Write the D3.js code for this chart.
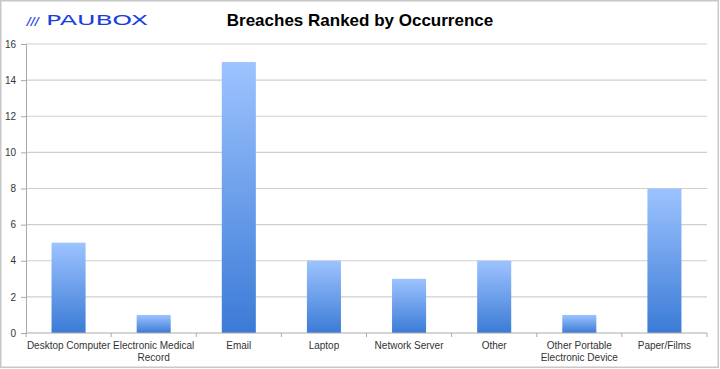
<!DOCTYPE html>
<html>
<head>
<meta charset="utf-8">
<script src="https://cdn.jsdelivr.net/npm/d3@7"></script>
<style>
  html, body { margin: 0; padding: 0; background: #fff; }
  svg { display: block; }
</style>
</head>
<body>
<div id="chart"></div>
<script>
var categories = ["Desktop Computer", "Electronic Medical Record", "Email", "Laptop",
                  "Network Server", "Other", "Other Portable Electronic Device", "Paper/Films"];
var labelLines = [["Desktop Computer"], ["Electronic Medical", "Record"], ["Email"], ["Laptop"],
                  ["Network Server"], ["Other"], ["Other Portable", "Electronic Device"], ["Paper/Films"]];
var breaches = [5, 1, 15, 4, 3, 4, 1, 8];
var yTicks = [0, 2, 4, 6, 8, 10, 12, 14, 16];

var width = 720, height = 369;
var margin = {top: 44, right: 13, bottom: 36, left: 26};

var svg = d3.select("#chart").append("svg")
    .attr("width", width)
    .attr("height", height);

// frame
svg.append("rect")
    .attr("x", 0.75).attr("y", 0.75)
    .attr("width", width - 2.5).attr("height", height - 2.5)
    .attr("fill", "#fff")
    .attr("stroke", "#c8c8c8")
    .attr("stroke-width", 1.5);

var defs = svg.append("defs");
var grad = defs.append("linearGradient")
    .attr("id", "barGrad")
    .attr("x1", 0).attr("y1", 0).attr("x2", 0).attr("y2", 1);
grad.append("stop").attr("offset", "0%").attr("stop-color", "#9dc3ff");
grad.append("stop").attr("offset", "100%").attr("stop-color", "#3b7bd6");

var x = d3.scaleBand()
    .domain(categories)
    .range([margin.left, width - margin.right])
    .paddingInner(0)
    .paddingOuter(0);

var y = d3.scaleLinear()
    .domain([0, 16])
    .range([height - margin.bottom, margin.top]);

// gridlines
svg.append("g")
  .selectAll("line")
  .data(yTicks.filter(function(d) { return d > 0; }))
  .enter().append("line")
    .attr("x1", margin.left)
    .attr("x2", width - margin.right)
    .attr("y1", function(d) { return y(d); })
    .attr("y2", function(d) { return y(d); })
    .attr("stroke", "#cfcfcf")
    .attr("stroke-width", 1.2);

// bars
var barW = x.bandwidth() * 0.4;
svg.append("g")
  .selectAll("rect")
  .data(breaches)
  .enter().append("rect")
    .attr("x", function(d, i) { return x(categories[i]) + (x.bandwidth() - barW) / 2; })
    .attr("y", function(d) { return y(d); })
    .attr("width", barW)
    .attr("height", function(d) { return y(0) - y(d); })
    .attr("fill", "url(#barGrad)");

// y axis
var yAxis = d3.axisLeft(y).tickValues(yTicks).tickSize(5).tickPadding(5);
var gy = svg.append("g")
    .attr("transform", "translate(" + margin.left + ",0)")
    .call(yAxis);
gy.select(".domain").attr("stroke", "#aaa");
gy.selectAll(".tick line").attr("stroke", "#aaa");
gy.selectAll(".tick text")
    .attr("fill", "#333")
    .style("font-family", "Liberation Sans, Arial, sans-serif")
    .style("font-size", "10px");

// x axis: ticks on category boundaries
var bounds = categories.map(function(c) { return x(c); }).concat([x.range()[1]]);
var gx = svg.append("g");
gx.append("line")
    .attr("x1", margin.left).attr("x2", width - margin.right)
    .attr("y1", y(0)).attr("y2", y(0))
    .attr("stroke", "#aaa");
gx.selectAll(".btick")
  .data(bounds)
  .enter().append("line")
    .attr("x1", function(d) { return d; }).attr("x2", function(d) { return d; })
    .attr("y1", y(0)).attr("y2", y(0) + 4)
    .attr("stroke", "#aaa");

var lab = gx.selectAll(".xlab")
  .data(labelLines)
  .enter().append("text")
    .attr("text-anchor", "middle")
    .attr("fill", "#333")
    .style("font-family", "Liberation Sans, Arial, sans-serif")
    .style("font-size", "10px");
lab.selectAll("tspan")
  .data(function(d, i) { return d.map(function(t) { return {t: t, i: i}; }); })
  .enter().append("tspan")
    .attr("x", function(d) { return x(categories[d.i]) + x.bandwidth() / 2; })
    .attr("y", function(d, j) { return y(0) + 16 + j * 12; })
    .text(function(d) { return d.t; });

// title
svg.append("text")
    .attr("x", 360).attr("y", 26)
    .attr("text-anchor", "middle")
    .style("font-family", "Liberation Sans, Arial, sans-serif")
    .style("font-weight", "bold")
    .style("font-size", "17px")
    .attr("fill", "#000")
    .text("Breaches Ranked by Occurrence");

// logo
var logo = svg.append("g").attr("fill", "#1a3ee0");
logo.append("text")
    .attr("x", 27).attr("y", 25)
    .style("font-family", "DejaVu Sans, sans-serif")
    .style("font-size", "11px")
    .style("font-weight", "bold")
    .style("font-style", "italic")
    .text("///");
logo.append("text")
    .attr("x", 46).attr("y", 25)
    .style("font-family", "DejaVu Sans, sans-serif")
    .style("font-size", "14px")
    .attr("textLength", 102)
    .attr("lengthAdjust", "spacingAndGlyphs")
    .text("PAUBOX");
</script>
</body>
</html>
